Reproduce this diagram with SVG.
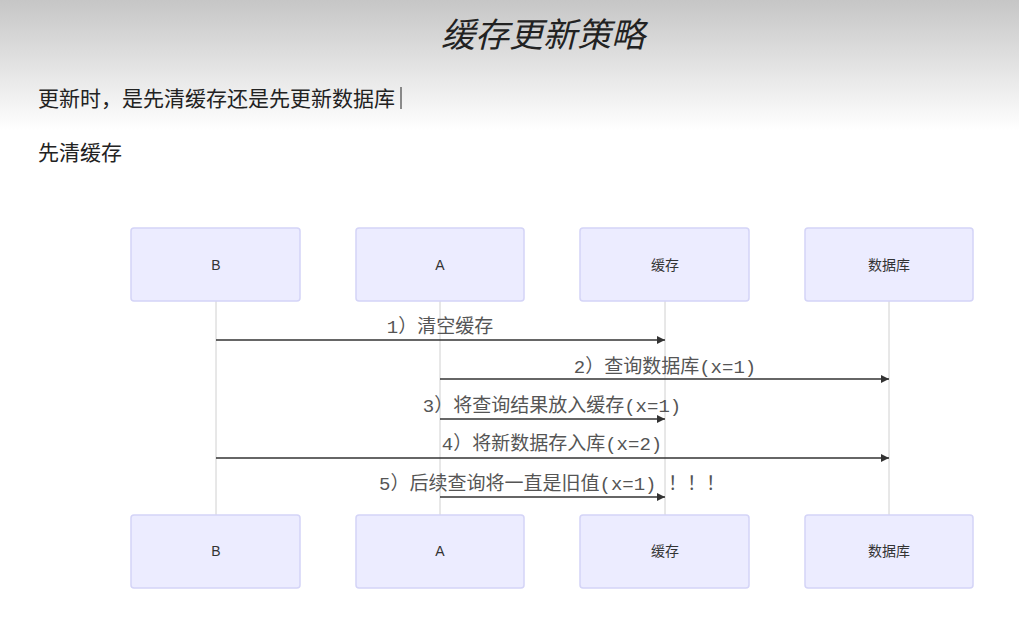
<svg xmlns="http://www.w3.org/2000/svg" width="1019" height="621" viewBox="0 0 1019 621">
<defs>
<linearGradient id="bg" x1="0" y1="0" x2="0" y2="1">
<stop offset="0" stop-color="#c6c6c6"/>
<stop offset="0.21" stop-color="#ffffff"/>
<stop offset="1" stop-color="#ffffff"/>
</linearGradient>
<marker id="ah" viewBox="0 0 10 10" refX="10" refY="5" markerWidth="10" markerHeight="8" markerUnits="userSpaceOnUse" orient="auto">
<path d="M0,0 L10,5 L0,10 z" fill="#333"/>
</marker>
<style>
.actor rect{fill:#ececff;stroke:#d4d4f7;stroke-width:1.5}
.actor text{font-family:"Liberation Sans","Noto Sans CJK SC",sans-serif;font-size:14px;fill:#333;text-anchor:middle;dominant-baseline:middle}
.life{stroke:#d0d0d0;stroke-width:1}
.msg{stroke:#333;stroke-width:1.5;marker-end:url(#ah)}
.lbl{font-family:"Liberation Mono","Noto Sans CJK SC",monospace;font-size:19px;fill:#555;text-anchor:middle}
.hd{font-family:"Noto Sans CJK SC",sans-serif;fill:#222}
</style>
</defs>
<rect width="1019" height="621" fill="url(#bg)"/>
<text class="hd" x="543" y="47" font-size="34" font-style="italic" text-anchor="middle">缓存更新策略</text>
<text class="hd" x="38" y="106" font-size="21">更新时，是先清缓存还是先更新数据库</text>
<line x1="401" y1="87" x2="401" y2="109" stroke="#222" stroke-width="1"/>
<text class="hd" x="38" y="160" font-size="21">先清缓存</text>

<g id="lifelines">
<line class="life" x1="216" y1="301" x2="216" y2="515"/>
<line class="life" x1="440" y1="301" x2="440" y2="515"/>
<line class="life" x1="665" y1="301" x2="665" y2="515"/>
<line class="life" x1="889" y1="301" x2="889" y2="515"/>
</g>

<g id="actor-B-top" class="actor"><rect x="131" y="228" width="169" height="73" rx="3"/><text x="216" y="266">B</text></g>
<g id="actor-A-top" class="actor"><rect x="356" y="228" width="168" height="73" rx="3"/><text x="440" y="266">A</text></g>
<g id="actor-cache-top" class="actor"><rect x="580" y="228" width="169" height="73" rx="3"/><text x="665" y="266">缓存</text></g>
<g id="actor-db-top" class="actor"><rect x="805" y="228" width="168" height="73" rx="3"/><text x="889" y="266">数据库</text></g>

<g id="actor-B-bottom" class="actor"><rect x="131" y="515" width="169" height="73" rx="3"/><text x="216" y="552">B</text></g>
<g id="actor-A-bottom" class="actor"><rect x="356" y="515" width="168" height="73" rx="3"/><text x="440" y="552">A</text></g>
<g id="actor-cache-bottom" class="actor"><rect x="580" y="515" width="169" height="73" rx="3"/><text x="665" y="552">缓存</text></g>
<g id="actor-db-bottom" class="actor"><rect x="805" y="515" width="168" height="73" rx="3"/><text x="889" y="552">数据库</text></g>

<g id="messages">
<line class="msg" x1="216" y1="340" x2="665" y2="340"/>
<text class="lbl" x="440" y="333">1）清空缓存</text>
<line class="msg" x1="440" y1="379" x2="889" y2="379"/>
<text class="lbl" x="665" y="373">2）查询数据库(x=1)</text>
<line class="msg" x1="440" y1="419" x2="665" y2="419"/>
<text class="lbl" x="552" y="412">3）将查询结果放入缓存(x=1)</text>
<line class="msg" x1="216" y1="458" x2="889" y2="458"/>
<text class="lbl" x="552" y="450">4）将新数据存入库(x=2)</text>
<line class="msg" x1="440" y1="497" x2="665" y2="497"/>
<text class="lbl" x="552" y="490">5）后续查询将一直是旧值(x=1) ！！！</text>
</g>
</svg>
